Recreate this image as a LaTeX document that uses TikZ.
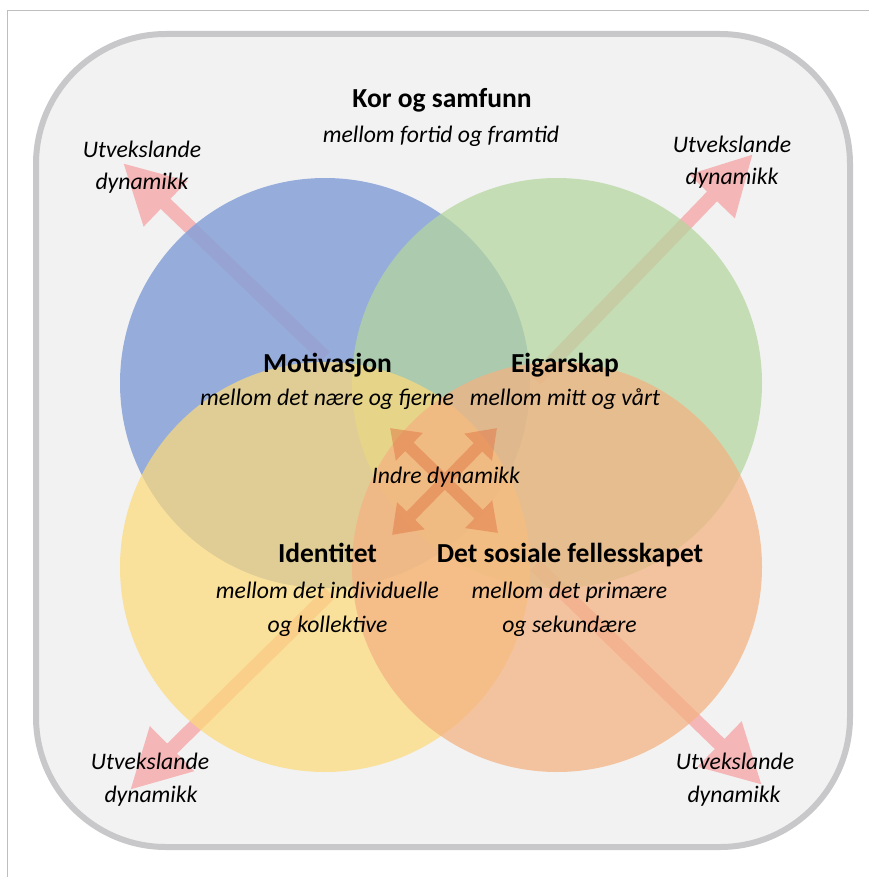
\documentclass[tikz,border=0pt]{standalone}
\usepackage{fontspec}
\setmainfont{Carlito}
\usetikzlibrary{arrows.meta}
\definecolor{bgfill}{RGB}{242,242,242}
\definecolor{frameln}{RGB}{200,200,202}
\definecolor{pagegray}{RGB}{190,190,190}
\definecolor{cblue}{RGB}{135,162,216}
\definecolor{cgreen}{RGB}{180,214,158}
\definecolor{cyellow}{RGB}{253,218,122}
\definecolor{corange}{RGB}{244,178,129}
\definecolor{pinkarr}{RGB}{245,182,183}
\definecolor{innerarr}{RGB}{226,118,68}
\begin{document}
\begin{tikzpicture}[x=1pt,y=-1pt,
  lbl/.style={font=\fontsize{23.7}{28}\selectfont\itshape, anchor=base, inner sep=0pt},
  ttl/.style={font=\fontsize{27.5}{32}\selectfont\bfseries, anchor=base, inner sep=0pt},
  venn/.style={circle, minimum size=410pt, inner sep=0pt, fill opacity=0.72},
  outarr/.style={line width=14pt, draw=pinkarr, -{Triangle[length=59pt,width=59pt]}},
  inarr/.style={line width=12pt, draw=innerarr, {Triangle[length=27pt,width=37pt]}-{Triangle[length=27pt,width=37pt]}},
]
\useasboundingbox (0,0) rectangle (869,877);
\draw[pagegray, line width=1pt] (869,10.5) -- (7.5,10.5) -- (7.5,877);
\draw[frameln, line width=6pt, fill=bgfill, rounded corners=130pt] (36,34) rectangle (850,847);

% outer arrows (beneath circles)
\coordinate (tlS) at (325,357); \coordinate (tlE) at (123,163);
\coordinate (trS) at (535,380); \coordinate (trE) at (753,154);
\coordinate (blS) at (330,593); \coordinate (blE) at (130,790);
\coordinate (brS) at (535,565); \coordinate (brE) at (762,785);
\draw[outarr] (tlS) -- (tlE);
\draw[outarr] (trS) -- (trE);
\draw[outarr] (blS) -- (blE);
\draw[outarr] (brS) -- (brE);

% circles
\node[venn, fill=cblue, fill opacity=0.85] (blue) at (325,383) {};
\node[venn, fill=cgreen] (green) at (557,383) {};
\node[venn, fill=cyellow] (yellow) at (325,567) {};
\node[venn, fill=corange] (orange) at (557,567) {};

% inner arrows
\coordinate (ia1) at (390,428); \coordinate (ia2) at (498,533);
\coordinate (ib1) at (497,428); \coordinate (ib2) at (392,535);
\begin{scope}[transparency group, opacity=0.5]
\draw[inarr] (ia1) -- (ia2);
\draw[inarr] (ib1) -- (ib2);
\end{scope}

% texts
\node[ttl] (kor) at (442,108) {Kor og samfunn};
\node[lbl] (korsub) at (441,143) {mellom fortid og framtid};
\node[lbl] (tl1) at (142,158) {Utvekslande};
\node[lbl] (tl2) at (142,190) {dynamikk};
\node[lbl] (tr1) at (732,153) {Utvekslande};
\node[lbl] (tr2) at (732,185) {dynamikk};
\node[lbl] (bl1) at (150,769) {Utvekslande};
\node[lbl] (bl2) at (151,802) {dynamikk};
\node[lbl] (br1) at (735,769) {Utvekslande};
\node[lbl] (br2) at (734,802) {dynamikk};
\node[ttl] (mot) at (327.5,372) {Motivasjon};
\node[lbl] (motsub) at (327,405) {mellom det nære og fjerne};
\node[ttl] (eig) at (565,372) {Eigarskap};
\node[lbl] (eigsub) at (565,405) {mellom mitt og vårt};
\node[lbl] (indre) at (446,483) {Indre dynamikk};
\node[ttl] (ide) at (327.5,562) {Identitet};
\node[lbl] (idesub1) at (327.5,598) {mellom det individuelle};
\node[lbl] (idesub2) at (327.5,632) {og kollektive};
\node[ttl] (sos) at (570,562) {Det sosiale fellesskapet};
\node[lbl] (sossub1) at (569.5,598) {mellom det primære};
\node[lbl] (sossub2) at (569.5,632) {og sekundære};
\end{tikzpicture}
\end{document}
